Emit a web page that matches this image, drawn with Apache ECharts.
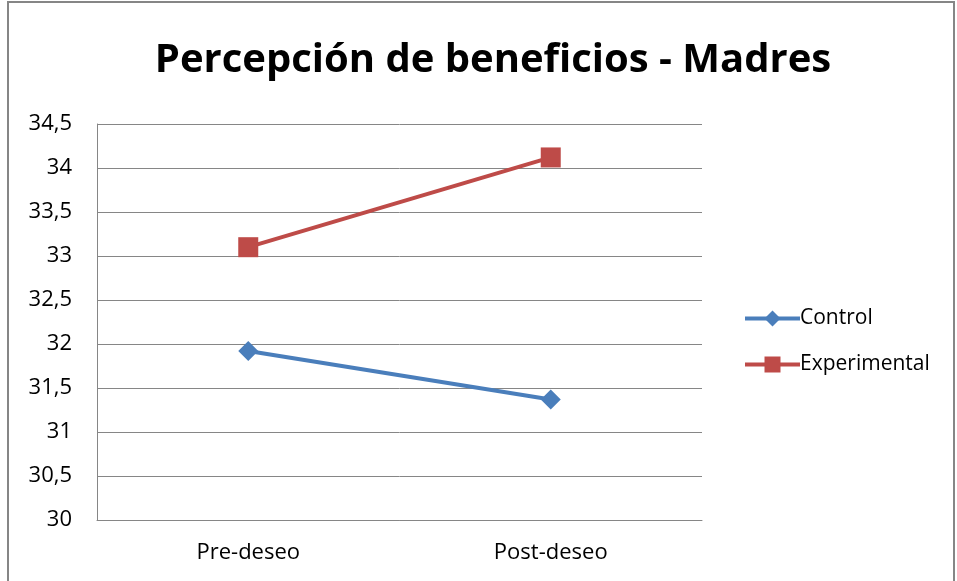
<!DOCTYPE html>
<html>
<head>
<meta charset="utf-8">
<script src="https://cdn.jsdelivr.net/npm/echarts@6/dist/echarts.min.js"></script>
<style>
  html, body { margin: 0; padding: 0; background: #fff; }
  #chart { width: 957px; height: 581px; }
</style>
</head>
<body>
<div id="chart"></div>
<script>
// datos
var categorias = ['Pre-deseo', 'Post-deseo'];
var control = [31.92, 31.37];
var experimental = [33.1, 34.12];
var yLabels = ['30', '30,5', '31', '31,5', '32', '32,5', '33', '33,5', '34', '34,5'];

var chart = echarts.init(document.getElementById('chart'));
var fontFam = 'Open Sans, sans-serif';

chart.setOption({
  animation: false,
  backgroundColor: '#fff',
  title: {
    text: 'Percepción de beneficios - Madres',
    left: 488,
    textAlign: 'center',
    top: 36,
    textStyle: {
      fontFamily: fontFam,
      fontWeight: 'bold',
      fontSize: 40,
      color: '#000'
    }
  },
  graphic: [{
    type: 'rect',
    shape: { x: 8, y: 2, width: 946, height: 590 },
    style: { fill: 'none', stroke: '#868686', lineWidth: 2 },
    silent: true
  }],
  grid: {
    left: 97,
    right: 255,
    top: 124,
    bottom: 61
  },
  legend: {
    orient: 'vertical',
    left: 738,
    top: 303,
    itemWidth: 55,
    itemHeight: 20,
    itemGap: 25,
    lineStyle: { width: 4 },
    textStyle: { fontFamily: fontFam, fontSize: 21, color: '#000', padding: [0, 0, 0, -5] },
    data: ['Control', 'Experimental']
  },
  xAxis: {
    type: 'category',
    data: categorias,
    boundaryGap: true,
    axisLine: { show: true, lineStyle: { color: '#868686', width: 1 } },
    axisTick: { show: false },
    axisLabel: { fontFamily: fontFam, fontSize: 22, color: '#000', margin: 22 }
  },
  yAxis: {
    type: 'value',
    min: 30,
    max: 34.5,
    interval: 0.5,
    axisLine: { show: true, lineStyle: { color: '#868686', width: 1 } },
    axisTick: { show: false },
    splitLine: { show: true, lineStyle: { color: '#868686', width: 1 } },
    axisLabel: {
      fontFamily: fontFam,
      fontSize: 22,
      color: '#000',
      margin: 25,
      formatter: function (v) {
        return yLabels[Math.round((v - 30) / 0.5)];
      }
    }
  },
  series: [{
    name: 'Control',
    type: 'line',
    data: control,
    symbol: 'diamond',
    symbolSize: 20,
    lineStyle: { width: 4, color: '#4A7EBB' },
    itemStyle: { color: '#4A7EBB' }
  }, {
    name: 'Experimental',
    type: 'line',
    data: experimental,
    symbol: 'rect',
    symbolSize: 20,
    lineStyle: { width: 4, color: '#BE4B48' },
    itemStyle: { color: '#BE4B48' }
  }]
});
</script>
</body>
</html>
